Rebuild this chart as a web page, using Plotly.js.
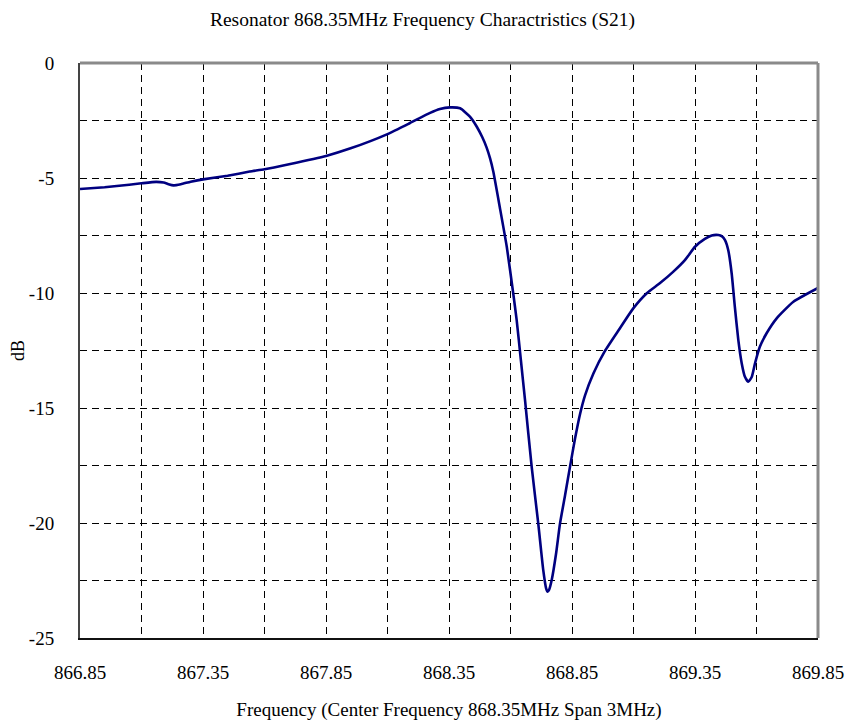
<!DOCTYPE html>
<html>
<head>
<meta charset="utf-8">
<script src="https://cdn.plot.ly/plotly-3.0.1.min.js"></script>
<style>html,body{margin:0;padding:0;background:#fff;}#chart{width:845px;height:725px;}</style>
</head>
<body>
<div id="chart"></div>
<script>
// Frequency (MHz)
var freq = [866.85, 866.95, 867.05, 867.10, 867.16, 867.19, 867.21, 867.23, 867.26, 867.30, 867.35,
  867.45, 867.54, 867.60, 867.70, 867.85, 867.95, 868.10, 868.19, 868.273, 868.313, 868.354, 868.395,
  868.435, 868.463, 868.485, 868.503, 868.517, 868.530, 868.557, 868.585, 868.611, 868.625, 868.642,
  868.659, 868.686, 868.713, 868.733, 868.745, 868.751, 868.757, 868.7675, 868.785, 868.801, 868.822,
  868.842, 868.862, 868.883, 868.903, 868.937, 868.984, 869.045, 869.099, 869.154, 869.208, 869.262,
  869.309, 869.350, 869.390, 869.418, 869.445, 869.460, 869.472, 869.485, 869.499, 869.512, 869.526,
  869.540, 869.553, 869.567, 869.581, 869.594, 869.614, 869.641, 869.682, 869.750, 869.850];
// S21 (dB)
var s21 = [-5.48, -5.40, -5.29, -5.23, -5.17, -5.20, -5.27, -5.32, -5.27, -5.16, -5.06,
  -4.90, -4.72, -4.62, -4.40, -4.04, -3.71, -3.09, -2.62, -2.17, -2.00, -1.93, -1.97,
  -2.33, -2.77, -3.22, -3.68, -4.15, -4.72, -6.30, -8.00, -10.01, -11.17, -12.90,
  -14.65, -17.55, -20.04, -22.04, -22.85, -22.99, -22.90, -22.48, -21.35, -20.04, -18.78,
  -17.55, -16.35, -15.25, -14.45, -13.50, -12.52, -11.53, -10.67, -10.01, -9.57, -9.07,
  -8.57, -7.99, -7.65, -7.50, -7.48, -7.54, -7.70, -8.13, -9.14, -10.60, -12.04,
  -13.06, -13.64, -13.86, -13.64, -13.06, -12.33, -11.75, -11.10, -10.38, -9.78];
var xTicks = [866.85, 867.35, 867.85, 868.35, 868.85, 869.35, 869.85];
var yTicks = [0, -5, -10, -15, -20, -25];

var serif = 'Liberation Serif, Times New Roman, serif';
var gridDash = '7px,5px';

var trace = {
  x: freq, y: s21, type: 'scatter', mode: 'lines',
  line: {color: '#000080', width: 2.6, shape: 'spline', smoothing: 0.5},
  hoverinfo: 'x+y'
};

var layout = {
  width: 845, height: 725,
  margin: {l: 80, r: 27, t: 63, b: 87},
  paper_bgcolor: '#fff', plot_bgcolor: '#fff',
  showlegend: false,
  font: {family: serif, color: '#000', size: 18},
  title: {text: 'Resonator 868.35MHz Frequency Charactristics (S21)', font: {family: serif, size: 19.5, color: '#000'},
          x: 0.5, xanchor: 'center', y: 0.974, yanchor: 'middle', yref: 'container'},
  xaxis: {
    range: [866.85, 869.85], tickvals: xTicks, ticktext: xTicks.map(function(v){return v.toFixed(2);}),
    showgrid: true, gridcolor: '#000', gridwidth: 1, griddash: gridDash,
    minor: {dtick: 0.25, tick0: 866.85, showgrid: true, gridcolor: '#000', gridwidth: 1, griddash: gridDash, ticks: ''},
    showline: true, linecolor: '#111', linewidth: 2,
    ticks: '', ticklabelstandoff: 16, zeroline: false,
    tickfont: {family: serif, size: 19, color: '#000'},
    title: {text: 'Frequency (Center Frequency 868.35MHz Span 3MHz)', font: {family: serif, size: 19, color: '#000'}, standoff: 21}
  },
  yaxis: {
    range: [-25, 0], tickvals: yTicks, ticktext: yTicks.map(String),
    showgrid: true, gridcolor: '#000', gridwidth: 1, griddash: gridDash,
    minor: {dtick: 2.5, tick0: 0, showgrid: true, gridcolor: '#000', gridwidth: 1, griddash: gridDash, ticks: ''},
    showline: true, linecolor: '#444', linewidth: 2,
    ticks: '', ticklabelstandoff: 20, zeroline: false,
    tickfont: {family: serif, size: 19, color: '#000'},
    title: {text: 'dB', font: {family: serif, size: 18, color: '#000'}, standoff: 0}
  },
  shapes: [
    {type: 'line', xref: 'paper', yref: 'paper', x0: 0, x1: 1, y0: 1, y1: 1, line: {color: '#8a8a8a', width: 3}},
    {type: 'line', xref: 'paper', yref: 'paper', x0: 1, x1: 1, y0: 0, y1: 1, line: {color: '#8a8a8a', width: 3}}
  ]
};

Plotly.newPlot('chart', [trace], layout, {displayModeBar: false, staticPlot: true});
</script>
</body>
</html>
